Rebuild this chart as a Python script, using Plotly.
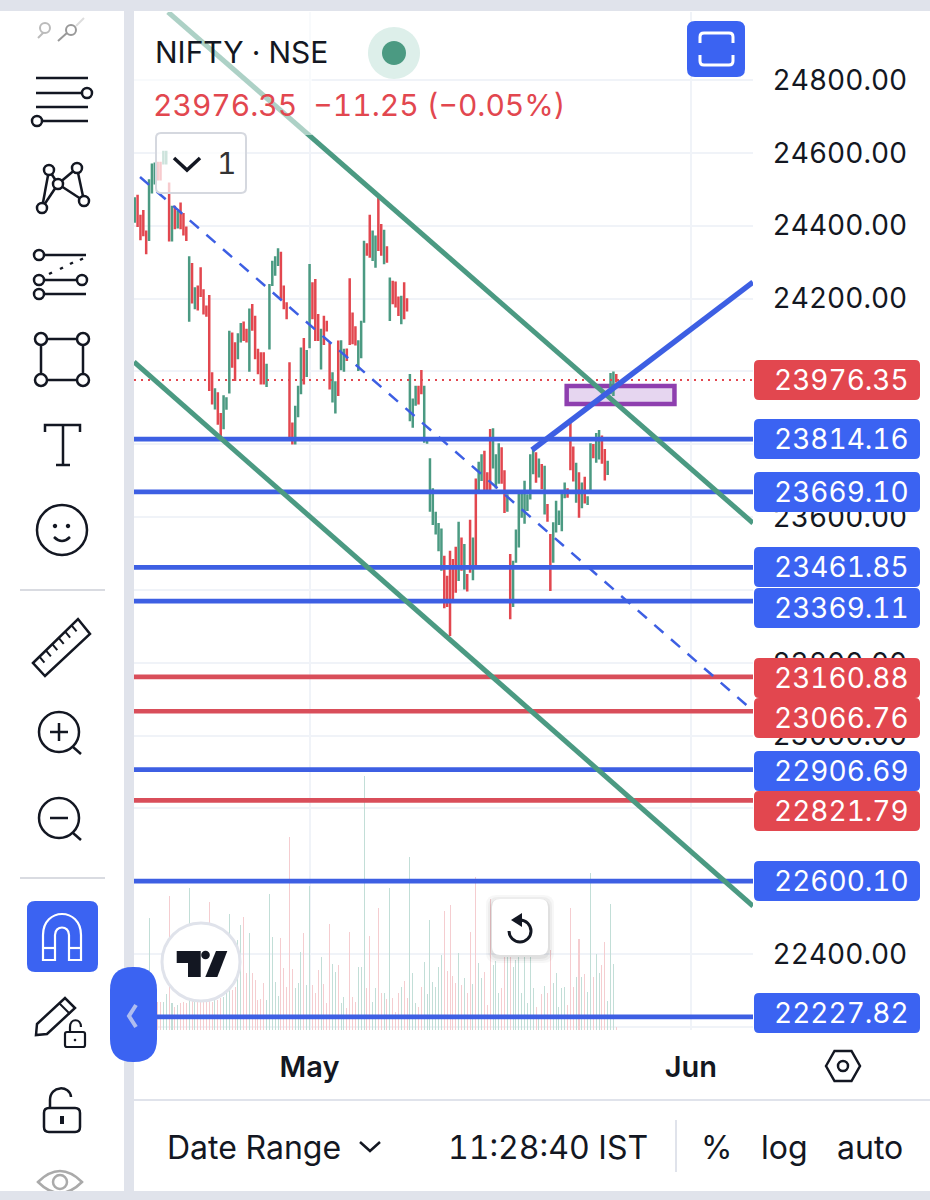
import plotly.graph_objects as go

W, H = 930, 1200
FONT = "Inter"
DARK = "#131722"
BLUE = "#3D5FE3"
LINE_RED = "#D94E5A"
CANDLE_RED = "#E2474F"
CANDLE_GREEN = "#4B9A82"
BTN = "#3B63F2"
GUTTER = "#E0E3EB"

candle_high = [24475,24482,24427,24440,24384,24525,24568,24571,24573,24573,24603,24603,24516,24452,24452,24438,24461,24432,24395,24313,
24295,24228,24233,24283,24223,24178,24207,23995,23951,23940,23883,23932,23926,24109,24104,24077,24102,24130,24134,24114,
24170,24182,24150,24059,24050,24050,24018,24237,24301,24313,24335,24326,24233,24187,24022,23857,23903,23958,24063,24089,
24056,24292,24242,24251,24155,24114,24150,24136,24075,23995,23970,24082,24083,24059,24060,24253,24159,24121,24083,24136,
24356,24349,24427,24384,24370,24480,24402,24386,24341,24255,24246,24244,24203,24205,24242,24198,23990,23923,23958,23958,
24001,23958,23811,23759,23676,23612,23581,23566,23491,23436,23505,23482,23516,23584,23541,23523,23441,23590,23541,23703,
23749,23770,23779,23720,23839,23841,23770,23800,23789,23726,23660,23496,23477,23563,23665,23665,23697,23660,23770,23784,
23775,23758,23743,23738,23633,23551,23583,23642,23615,23670,23692,23676,23862,23791,23746,23720,23692,23708,23654,23800,
23798,23828,23836,23821,23784,23752,23993,23997,23990]
candle_low = [24411,24399,24363,24374,24324,24361,24491,24516,24527,24527,24571,24571,24359,24359,24393,24395,24393,24376,24361,24139,
24189,24173,24170,24207,24159,24153,23949,23912,23898,23856,23821,23844,23897,23942,24013,23976,24036,24082,24086,24082,
24002,24114,24036,23995,23967,23967,23960,24063,24237,24265,24292,24201,24173,24146,23821,23802,23802,23877,23940,23967,
23987,24066,24146,24086,24086,24008,24075,24112,23953,23917,23887,23935,24006,24002,24031,24075,24077,24074,24004,24039,
24136,24320,24315,24306,24287,24333,24320,24297,24301,24141,24187,24178,24155,24132,24146,24167,23866,23848,23908,23912,
23940,23807,23804,23617,23581,23555,23509,23455,23352,23356,23276,23374,23395,23427,23455,23404,23398,23450,23429,23465,
23676,23702,23674,23672,23670,23736,23681,23694,23694,23614,23617,23322,23356,23477,23519,23601,23584,23619,23651,23720,
23697,23711,23679,23610,23590,23400,23477,23560,23581,23564,23654,23656,23731,23700,23642,23601,23627,23640,23636,23674,
23764,23752,23761,23749,23703,23718,23940,23935,23972]
candle_dir = ("GRRRRGGGRRGGRGRGRRRG" "RGRRRRRRGRRGGGRRGGRR" "GRRRRRGGGGGRRRRRGGGR" "GGRRRGRRRGGRGGRRRRGG"
              "GRRGGRRGRGRRRGRRGGGR" "RGGGGGGGRRRRRGRGRRGR" "GGRRRGGGRRGRGGGGGGGG" "RGRGRRGGGGGRRRGRGRGG"
              "RGGRRGGGR")
volume = [100,110,90,120,100,335,100,90,85,85,85,108,402,80,68,75,82,85,80,425,
90,85,85,85,85,85,385,85,90,90,95,100,120,348,120,130,270,315,340,170,
290,170,150,90,92,140,90,408,280,145,102,277,185,130,580,182,127,140,233,292,
135,433,135,110,180,220,138,80,318,198,175,195,80,100,65,293,100,85,188,188,
762,125,283,85,125,365,110,112,92,427,97,55,110,128,148,97,520,172,80,70,
130,205,108,330,145,130,190,225,358,177,375,162,140,232,135,155,112,295,138,460,
202,155,175,75,392,195,208,110,125,220,220,220,190,210,220,110,220,80,220,127,
70,40,108,133,110,240,140,170,68,125,130,75,367,128,160,272,158,168,115,472,
158,228,170,195,265,88,378,198,10]

price_ticks = [24800,24600,24400,24200,24000,23800,23600,23400,23200,23000,22800,22600,22400,22200]
hidden_ticks = [24000,23800,23400,22800,22600,22200]   # their labels sit fully behind the price badges
month_ticks = [61, 194]
month_labels = ["May", "Jun"]

blue_levels = [23814.16, 23669.10, 23461.85, 23369.11, 22906.69, 22600.10, 22227.82]
red_levels = [23160.88, 23066.76, 22821.79]
last_price = 23976.35

# sloped drawings: bar index and price of each end
channel_upper = ([11.6, 215.7], [24986.7, 23583.6])
channel_lower = ([-0.25, 215.7], [24025.7, 22532.0])
mid_dashed = ([1.85, 214.6], [24533.7, 23075.7])
blue_trend = ([138.6, 215.7], [23784.0, 24245.0])
zone_x = [150.7, 188.3]
zone_y = [23910.4, 23960.0]

badge_texts = ["23976.35","23814.16","23669.10","23461.85","23369.11","23160.88","23066.76","22906.69","22821.79","22600.10","22227.82"]
badge_kinds = ["r","b","b","b","b","r","r","b","r","b","b"]
badge_centres = [380,439,492,567,608,678,718,771,811,881,1013]


def fx(x): return x / W
def fy(y): return 1 - y / H
def pt(x, y): return f"{fx(x):.5f} {fy(y):.5f}"

shapes, notes = [], []

def path(d, color=None, w=0, fill=None, opacity=1, layer="above"):
    shapes.append(dict(type="path", xref="paper", yref="paper", path=d, layer=layer, opacity=opacity,
                       line=dict(color=color or "rgba(0,0,0,0)", width=w),
                       fillcolor=fill or "rgba(0,0,0,0)"))

def poly(points, color=None, w=2, close=False, fill=None, opacity=1):
    d = "M " + " L ".join(pt(*p) for p in points) + (" Z" if close else "")
    path(d, color, w, fill, opacity)

def circle(cx, cy, r, color=None, w=2, fill="#ffffff", opacity=1):
    k = 0.5523 * r
    d = (f"M {pt(cx-r,cy)} C {pt(cx-r,cy-k)} {pt(cx-k,cy-r)} {pt(cx,cy-r)} "
         f"C {pt(cx+k,cy-r)} {pt(cx+r,cy-k)} {pt(cx+r,cy)} "
         f"C {pt(cx+r,cy+k)} {pt(cx+k,cy+r)} {pt(cx,cy+r)} "
         f"C {pt(cx-k,cy+r)} {pt(cx-r,cy+k)} {pt(cx-r,cy)} Z")
    path(d, color, w, fill, opacity)

def rrect(x0, y0, x1, y1, r, fill=None, color=None, w=0, opacity=1):
    d = (f"M {pt(x0+r,y0)} L {pt(x1-r,y0)} Q {pt(x1,y0)} {pt(x1,y0+r)} L {pt(x1,y1-r)} "
         f"Q {pt(x1,y1)} {pt(x1-r,y1)} L {pt(x0+r,y1)} Q {pt(x0,y1)} {pt(x0,y1-r)} "
         f"L {pt(x0,y0+r)} Q {pt(x0,y0)} {pt(x0+r,y0)} Z")
    path(d, color, w, fill, opacity)

def text(x, y, s, size=28, color=DARK, anchor="left", weight=400):
    notes.append(dict(xref="paper", yref="paper", x=fx(x), y=fy(y), text=s, showarrow=False,
                      xanchor=anchor, yanchor="middle", align="left", borderpad=0, xshift=-2,
                      font=dict(family=FONT, size=size, color=color, weight=weight)))

# ---- data traces
idx = list(range(len(candle_high)))
assert len(candle_low) == len(idx) and len(candle_dir) == len(idx) and len(volume) == len(idx)
opens = [candle_low[i] if candle_dir[i] == "G" else candle_high[i] for i in idx]
closes = [candle_high[i] if candle_dir[i] == "G" else candle_low[i] for i in idx]
vol_colors = ["#C2DED7" if d == "G" else "#F5CDD0" for d in candle_dir]

fig = go.Figure()
fig.add_trace(go.Bar(x=idx, y=volume, width=0.36, marker=dict(color=vol_colors, line_width=0),
                     yaxis="y", hoverinfo="skip", showlegend=False))
fig.add_trace(go.Candlestick(x=idx, open=opens, high=candle_high, low=candle_low, close=closes,
                             yaxis="y2", whiskerwidth=0, hoverinfo="skip", showlegend=False,
                             increasing=dict(line=dict(color=CANDLE_GREEN, width=2), fillcolor=CANDLE_GREEN),
                             decreasing=dict(line=dict(color=CANDLE_RED, width=2), fillcolor=CANDLE_RED)))

def seg(xs, ys, color, width, dash="solid"):
    fig.add_trace(go.Scatter(x=xs, y=ys, mode="lines", yaxis="y2", hoverinfo="skip", showlegend=False,
                             line=dict(color=color, width=width, dash=dash)))

X0, X1 = -0.25, 215.7
seg([X0, X1], [last_price, last_price], CANDLE_RED, 2, "2px,5px")
for v in red_levels:
    seg([X0, X1], [v, v], LINE_RED, 4.7)
for v in blue_levels:
    seg([X0, X1], [v, v], BLUE, 4.7)
seg(*mid_dashed, BLUE, 2.5, "12px,10px")
seg(*channel_upper, CANDLE_GREEN, 5)
seg(*channel_lower, CANDLE_GREEN, 5)
seg(*blue_trend, BLUE, 5.5)

shapes.append(dict(type="rect", xref="x", yref="y2", x0=zone_x[0], x1=zone_x[1], y0=zone_y[0], y1=zone_y[1],
                   layer="below", line=dict(color="#8E3FAF", width=4.5), fillcolor="#E6D6F0"))

# ---- chrome
rrect(-10, 11, 124, 1191, 12, fill="#ffffff", color=None)
poly([(124, 0), (134, 0), (134, 1200), (124, 1200)], close=True, w=0, fill=GUTTER)
poly([(0, 0), (W, 0), (W, 11), (0, 11)], close=True, w=0, fill=GUTTER)
poly([(134, 1100), (W, 1100)], "#E0E3EB", 2)
poly([(676, 1120), (676, 1172)], "#E0E3EB", 2)

# translucent legend wash
poly([(134, 12), (312, 12), (312, 135), (134, 135)], close=True, w=0, fill="rgba(255,255,255,0.55)")
rrect(156, 133, 246, 193, 5, fill="rgba(255,255,255,0.72)", color="#D5D8DF", w=2)
poly([(174, 158), (187, 170), (200, 158)], DARK, 3.5)
text(218, 163, "1", 30, "#333333")

# header
text(156, 52, "NIFTY · NSE", 30)
text(154, 105, "23976.35  −11.25 (−0.05%)", 30, CANDLE_RED)
circle(394, 53, 26, fill="#DDEFEA")
circle(394, 53, 12, fill=CANDLE_GREEN)

# fullscreen button
rrect(687, 21, 745, 77, 8, fill=BTN)
path(f"M {pt(700,43)} L {pt(700,37)} Q {pt(700,33)} {pt(704,33)} L {pt(729,33)} Q {pt(733,33)} {pt(733,37)} L {pt(733,43)}", "#ffffff", 3)
path(f"M {pt(700,55)} L {pt(700,61)} Q {pt(700,65)} {pt(704,65)} L {pt(729,65)} Q {pt(733,65)} {pt(733,61)} L {pt(733,55)}", "#ffffff", 3)

# price badges
for s, k, c in zip(badge_texts, badge_kinds, badge_centres):
    rrect(754, c - 20, 920, c + 20, 5, fill=CANDLE_RED if k == "r" else BTN)
    text(775, c, s, 28, "#ffffff")

# bottom bar
text(168, 1147, "Date Range", 32)
poly([(360, 1142), (370, 1151), (380, 1142)], DARK, 2.5)
text(449, 1147, "11:28:40 IST", 32)
text(702, 1147, "%", 32)
text(762, 1147, "log", 32)
text(838, 1147, "auto", 32)
poly([(826, 1066), (834.5, 1051), (851.5, 1051), (860, 1066), (851.5, 1081), (834.5, 1081)], DARK, 2.5, close=True)
circle(843, 1066, 5, DARK, 2.5, fill="rgba(0,0,0,0)")

# TradingView logo
circle(201, 962, 39, "#E0E3EB", 3)
poly([(176.7, 951), (200.7, 951), (200.7, 977), (188, 977), (188, 963), (176.7, 963)], w=0, close=True, fill=DARK)
circle(205.5, 955, 4.3, fill=DARK, w=0)
poly([(216, 951), (227.3, 951), (217.3, 977), (205.3, 977)], w=0, close=True, fill=DARK)

# reset button
for g, a in ((6, 0.03), (4, 0.04), (2, 0.05)):
    rrect(492 - g, 899 - g + 2, 548 + g, 955 + g + 2, 10, fill=f"rgba(0,0,0,{a})")
rrect(492, 899, 548, 955, 8, fill="#ffffff")
r = 11; k = 0.5523 * r; cx, cy = 520, 931
path(f"M {pt(cx,cy-r)} C {pt(cx+k,cy-r)} {pt(cx+r,cy-k)} {pt(cx+r,cy)} C {pt(cx+r,cy+k)} {pt(cx+k,cy+r)} {pt(cx,cy+r)} "
     f"C {pt(cx-k,cy+r)} {pt(cx-r,cy+k)} {pt(cx-r,cy)}", DARK, 3)
poly([(522, 913), (522, 927), (511, 920)], w=0, close=True, fill=DARK)

# expand pill
rrect(110, 967, 157, 1062, 23, fill=BTN)
poly([(136, 1005), (129, 1016), (136, 1027)], "#AFBDF0", 4)

# ---- toolbar icons
IC = "#131722"
poly([(38, 38), (48, 28)], "#BBBBBB", 2)
circle(45, 28, 5, "#BBBBBB", 2)
poly([(58, 41), (68, 32)], "#999999", 2)
circle(71, 30, 5, "#999999", 2)
poly([(76, 26), (84, 18)], "#DDDDDD", 2)

for y, a, b in ((78, 36, 88), (93, 36, 82), (107, 36, 88), (121, 42, 88)):
    poly([(a, y), (b, y)], IC, 2.5)
circle(87, 93, 5, IC, 2.5); circle(37, 121, 5, IC, 2.5)

fan = {"a": (49, 170), "b": (77, 168), "c": (58, 184), "d": (84, 201), "e": (42, 208)}
for p, q in ("ea", "ec", "ac", "cb", "bd", "cd"):
    poly([fan[p], fan[q]], IC, 2.5)
for p in fan.values():
    circle(p[0], p[1], 5, IC, 2.5)

poly([(44, 255), (86, 255)], IC, 2.5); circle(39, 255, 5, IC, 2.5)
poly([(44, 280), (78, 280)], IC, 2.5); circle(39, 280, 5, IC, 2.5); circle(82, 280, 5, IC, 2.5)
poly([(44, 294), (86, 294)], IC, 2.5); circle(39, 294, 5, IC, 2.5)
for a in ((49, 274), (60, 269), (70, 264), (80, 260)):
    poly([a, (a[0] + 3, a[1] - 1.5)], IC, 2.5)

poly([(41, 339), (83, 339), (83, 380), (41, 380)], IC, 2.5, close=True)
for p in ((41, 339), (83, 339), (41, 380), (83, 380)):
    circle(p[0], p[1], 6, IC, 2.5)

poly([(45, 432), (45, 425), (80, 425), (80, 432)], IC, 2.5)
poly([(63, 425), (63, 465)], IC, 2.5)
poly([(56, 465), (70, 465)], IC, 2.5)

circle(62, 530, 25, IC, 2.5)
circle(55, 526, 2.2, fill=IC, w=0); circle(68, 526, 2.2, fill=IC, w=0)
path(f"M {pt(54,537)} Q {pt(62,545)} {pt(70,537)}", IC, 2.5)

poly([(20, 590), (105, 590)], "#D9DBE1", 2)
poly([(20, 878), (105, 878)], "#D9DBE1", 2)

poly([(33, 663), (78, 619), (90, 634), (45, 676)], IC, 2.5, close=True)
for t in range(1, 7):
    x = 33 + (78 - 33) * t / 7; y = 663 + (619 - 663) * t / 7
    poly([(x, y), (x + 5, y + 6)], IC, 2)

for cy_, sym in ((732, "+"), (818, "-")):
    circle(59, cy_, 20, IC, 2.5)
    poly([(73, cy_ + 15), (81, cy_ + 22)], IC, 2.5)
    poly([(50, cy_), (68, cy_)], IC, 2.5)
    if sym == "+":
        poly([(59, cy_ - 9), (59, cy_ + 9)], IC, 2.5)

rrect(27, 901, 98, 972, 8, fill=BTN)
path(f"M {pt(43,960)} L {pt(43,935)} C {pt(43,907)} {pt(81,907)} {pt(81,935)} L {pt(81,960)} L {pt(69,960)} L {pt(69,935)} "
     f"C {pt(69,925)} {pt(55,925)} {pt(55,935)} L {pt(55,960)} Z", "#ffffff", 2.2)
poly([(43, 948), (55, 948)], "#ffffff", 2.2)
poly([(69, 948), (81, 948)], "#ffffff", 2.2)

poly([(37, 1024), (65, 998), (75, 1008), (47, 1034), (36, 1035)], IC, 2.5, close=True)
poly([(59, 1003), (70, 1014)], IC, 2)
rrect(65, 1032, 85, 1047, 2, fill="#ffffff", color=IC, w=2.2)
path(f"M {pt(70,1032)} L {pt(70,1027)} C {pt(70,1018)} {pt(81,1018)} {pt(81,1027)}", IC, 2.2)
circle(75, 1040, 1.3, fill=IC, w=0)

rrect(44, 1108, 80, 1132, 5, fill="#ffffff", color=IC, w=2.5)
path(f"M {pt(50,1108)} L {pt(50,1100)} C {pt(50,1085)} {pt(70,1085)} {pt(71,1097)}", IC, 2.5)
poly([(62, 1116), (62, 1124)], IC, 4)

path(f"M {pt(38,1182)} Q {pt(60,1160)} {pt(82,1182)} Q {pt(60,1204)} {pt(38,1182)} Z", "#AAAAAA", 2.5)
circle(60, 1182, 7, "#AAAAAA", 2.5)
poly([(0, 1191), (W, 1191), (W, 1200), (0, 1200)], close=True, w=0, fill=GUTTER)

# ---- layout
GRID = "#F0F3F8"
TOP, BOTTOM = 12, 1030
PRICE_TOP = 24800 - (TOP - 80) / 0.3642
PRICE_BOTTOM = 24800 - (BOTTOM - 80) / 0.3642
domain_y = [fy(BOTTOM), fy(TOP)]
price_labels = ["" if v in hidden_ticks else f"{v:.2f}" for v in price_ticks]

fig.update_layout(
    template="none",
    width=W, height=H, margin=dict(l=0, r=0, t=0, b=0, pad=0), autosize=False,
    paper_bgcolor="#ffffff", plot_bgcolor="rgba(0,0,0,0)",
    showlegend=False, boxgap=0.75, bargap=0, hovermode=False,
    font=dict(family=FONT, color=DARK),
    xaxis=dict(domain=[fx(134), fx(753)], range=[X0, X1], anchor="y", tickmode="array", automargin=False,
               tickvals=month_ticks, ticktext=month_labels, showgrid=True, gridcolor=GRID, gridwidth=2,
               zeroline=False, showline=False, ticks="outside", ticklen=11, tickcolor="rgba(0,0,0,0)",
               tickfont=dict(family=FONT, size=29, color=DARK, weight=600), rangeslider=dict(visible=False)),
    yaxis=dict(domain=domain_y, range=[0, (BOTTOM - TOP) * 3], visible=False, fixedrange=True, automargin=False),
    yaxis2=dict(domain=domain_y, range=[PRICE_BOTTOM, PRICE_TOP], overlaying="y", side="right", anchor="x", automargin=False,
                tickmode="array", tickvals=price_ticks, ticktext=price_labels, showgrid=True, gridcolor=GRID, gridwidth=2,
                zeroline=False, showline=False, ticks="outside", ticklen=13, tickcolor="rgba(0,0,0,0)",
                tickfont=dict(family=FONT, size=28, color=DARK)),
    shapes=shapes, annotations=notes,
)

fig.write_html("out.html", config=dict(displayModeBar=False, staticPlot=True),
               post_script="document.body.style.margin='0';document.body.style.background='#fff';"
                           "var s=document.createElement('style');"
                           "s.textContent='svg text{font-variant-numeric:tabular-nums;font-feature-settings:\"tnum\" 1;}';"
                           "document.head.appendChild(s);")
